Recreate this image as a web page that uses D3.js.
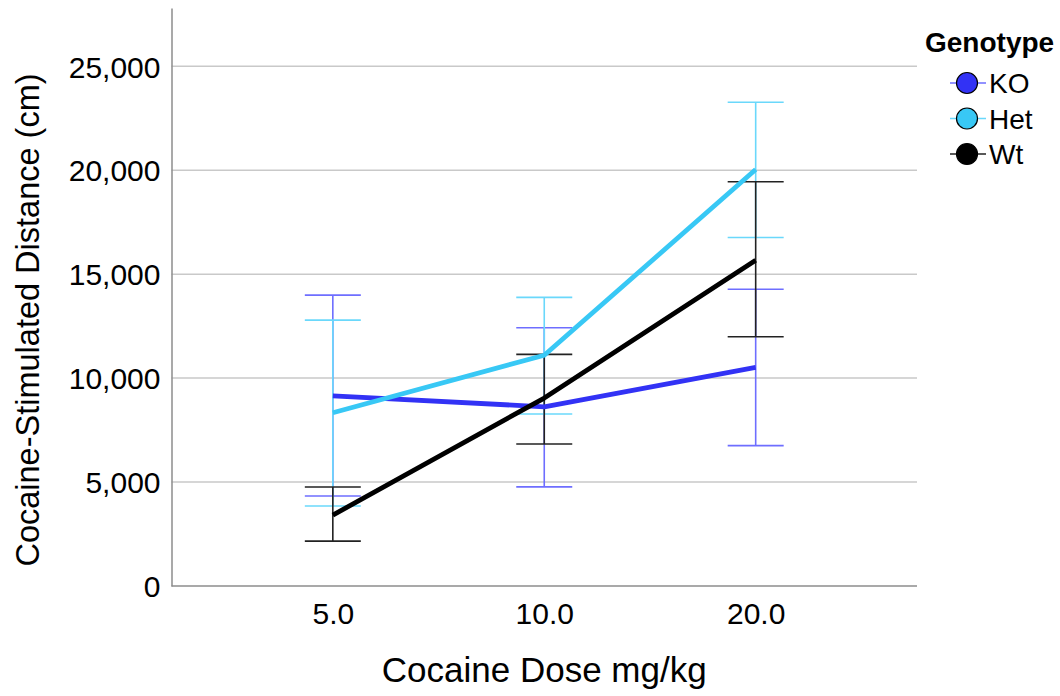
<!DOCTYPE html>
<html>
<head>
<meta charset="utf-8">
<script src="https://cdn.jsdelivr.net/npm/d3@7"></script>
<style>
  body { margin: 0; background: #fff; }
  svg { font-family: "Liberation Sans", Arial, sans-serif; }
</style>
</head>
<body>
<svg id="chart" width="1060" height="696"></svg>
<script>
// Cocaine dose levels (x categories)
const doses = ["5.0", "10.0", "20.0"];
const genotypes = ["KO", "Het", "Wt"];
const yTicks = [0, 5000, 10000, 15000, 20000, 25000];

// Mean cocaine-stimulated distance per genotype, one value per dose
const koMean  = [9140, 8620, 10510];
const hetMean = [8330, 11100, 20030];
const wtMean  = [3410, 9040, 15670];

// Error bar limits (lower / upper)
const koLow   = [4330, 4770, 6750];
const koHigh  = [13990, 12420, 14270];
const hetLow  = [3850, 8270, 16760];
const hetHigh = [12790, 13880, 23270];
const wtLow   = [2160, 6830, 11990];
const wtHigh  = [4760, 11140, 19440];

const lineColors = { KO: "#3232f5", Het: "#38c8f5", Wt: "#000000" };
const barColors  = { KO: "#6e6eff", Het: "#6ad8fb", Wt: "#222222" };

const series = [
  { key: "KO",  mean: koMean,  low: koLow,  high: koHigh },
  { key: "Het", mean: hetMean, low: hetLow, high: hetHigh },
  { key: "Wt",  mean: wtMean,  low: wtLow,  high: wtHigh }
];

const svg = d3.select("#chart");
const plotLeft = 171.5, plotRight = 917, plotTop = 8, plotBottom = 586;
const font = "'Liberation Sans', Arial, sans-serif";

const x = d3.scalePoint().domain(doses).range([plotLeft, plotRight]).padding(0.763);
const y = d3.scaleLinear().domain([0, 27800]).range([plotBottom, plotTop]);

// Horizontal gridlines
svg.append("g")
  .selectAll("line")
  .data(yTicks.filter(d => d > 0))
  .join("line")
  .attr("x1", plotLeft).attr("x2", plotRight)
  .attr("y1", d => y(d)).attr("y2", d => y(d))
  .attr("stroke", "#c9c9c9").attr("stroke-width", 1.5);

// Y axis
const yAxis = svg.append("g")
  .attr("transform", `translate(${plotLeft},0)`)
  .call(d3.axisLeft(y).tickValues(yTicks).tickFormat(d3.format(",")).tickSize(0).tickPadding(11));
yAxis.select(".domain").attr("stroke", "#8c8c8c").attr("stroke-width", 1.5);
yAxis.selectAll("text").attr("font-size", 30).attr("fill", "#000")
  .attr("font-family", font).attr("dy", "0.36em");

// X axis
const xAxis = svg.append("g")
  .attr("transform", `translate(0,${plotBottom})`)
  .call(d3.axisBottom(x).tickSize(0).tickPadding(0));
xAxis.select(".domain").attr("stroke", "#8c8c8c").attr("stroke-width", 1.5)
  .attr("d", `M${plotLeft},0H${plotRight}`);
xAxis.selectAll("text").attr("font-size", 30).attr("fill", "#000")
  .attr("font-family", font).attr("dy", null).attr("y", 38);

// Axis titles
svg.append("text")
  .attr("x", x("10.0")).attr("y", 682)
  .attr("text-anchor", "middle").attr("font-size", 35).attr("fill", "#000")
  .text("Cocaine Dose mg/kg");

svg.append("text")
  .attr("transform", `translate(39,320) rotate(-90)`)
  .attr("text-anchor", "middle").attr("font-size", 32.5).attr("fill", "#000")
  .text("Cocaine-Stimulated Distance (cm)");

// Error bars
const cap = 28;
const eb = svg.append("g");
series.forEach(s => {
  const g = eb.append("g").attr("stroke", barColors[s.key]).attr("stroke-width", 1.6);
  doses.forEach((d, i) => {
    g.append("line").attr("x1", x(d)).attr("x2", x(d))
      .attr("y1", y(s.low[i])).attr("y2", y(s.high[i]));
    g.append("line").attr("x1", x(d) - cap).attr("x2", x(d) + cap)
      .attr("y1", y(s.low[i])).attr("y2", y(s.low[i]));
    g.append("line").attr("x1", x(d) - cap).attr("x2", x(d) + cap)
      .attr("y1", y(s.high[i])).attr("y2", y(s.high[i]));
  });
});

// Mean lines
const line = d3.line().x((v, i) => x(doses[i])).y(v => y(v));
series.forEach(s => {
  svg.append("path")
    .attr("d", line(s.mean))
    .attr("fill", "none")
    .attr("stroke", lineColors[s.key])
    .attr("stroke-width", 4.8)
    .attr("stroke-linejoin", "round");
});

// Legend
const lg = svg.append("g");
lg.append("text").attr("x", 925).attr("y", 52)
  .attr("font-size", 28).attr("font-weight", "bold").attr("fill", "#000")
  .text("Genotype");
genotypes.forEach((k, i) => {
  const cy = 83 + i * 35.5;
  lg.append("line").attr("x1", 950).attr("x2", 986).attr("y1", cy).attr("y2", cy)
    .attr("stroke", barColors[k]).attr("stroke-width", 1.5);
  lg.append("circle").attr("cx", 967).attr("cy", cy).attr("r", 10.5)
    .attr("fill", lineColors[k]).attr("stroke", "#000").attr("stroke-width", 1.2);
  lg.append("text").attr("x", 989).attr("y", cy + 10)
    .attr("font-size", 28).attr("fill", "#000").text(k);
});
</script>
</body>
</html>
